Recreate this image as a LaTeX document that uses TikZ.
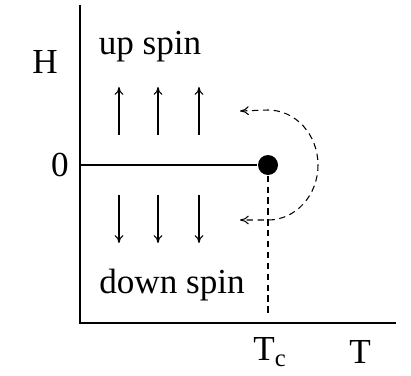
\documentclass[tikz,border=0pt]{standalone}
\usepackage{fontspec}
\setmainfont{Liberation Serif}
\usetikzlibrary{arrows.meta}
\begin{document}
\begin{tikzpicture}[x=0.02cm, y=0.02cm, line width=0.7pt,
    every node/.style={font=\fontsize{20}{24}\selectfont},
    spin/.style={-{To[length=4.5pt,width=5pt]}, line width=0.6pt},
    loopdash/.style={dash pattern=on 3.6pt off 2.6pt, line width=0.6pt}]
  \useasboundingbox (-80,-52) rectangle (331,323);
  \coordinate (O) at (0,0);
  \coordinate (Ytop) at (0,318);
  \coordinate (Xend) at (316,0);
  \draw (Ytop) -- (O) -- (Xend);

  \node (H) at (-35,261) {H};
  \node (zero) at (-20,158) {0};
  \node (Tc) at (190,-29) {T\textsubscript{c}};
  \node (T) at (280,-29) {T};
  \node (up) at (70,276) {up spin};
  \node (down) at (92,38) {down spin};

  \coordinate (Hzero) at (0,158);
  \node[circle, fill, inner sep=0pt, minimum size=0.4cm] (crit) at (188,158) {};
  \draw (Hzero) -- (crit);
  \coordinate (Tcfoot) at (188,7);
  \draw[loopdash] (crit) -- (Tcfoot);

  \foreach \x in {39,78,119} {
    \draw[spin] (\x,188) -- (\x,236);
    \draw[spin] (\x,128) -- (\x,80);
  }

  \coordinate (loopA) at (160,212);
  \coordinate (loopB) at (160,103);
  \draw[loopdash, {To[length=5pt,width=5pt]}-{To[length=5pt,width=5pt]}]
    (loopA) -- (188,213) arc[start angle=90, end angle=-90,
    x radius=50, y radius=55] -- (loopB);
\end{tikzpicture}
\end{document}
